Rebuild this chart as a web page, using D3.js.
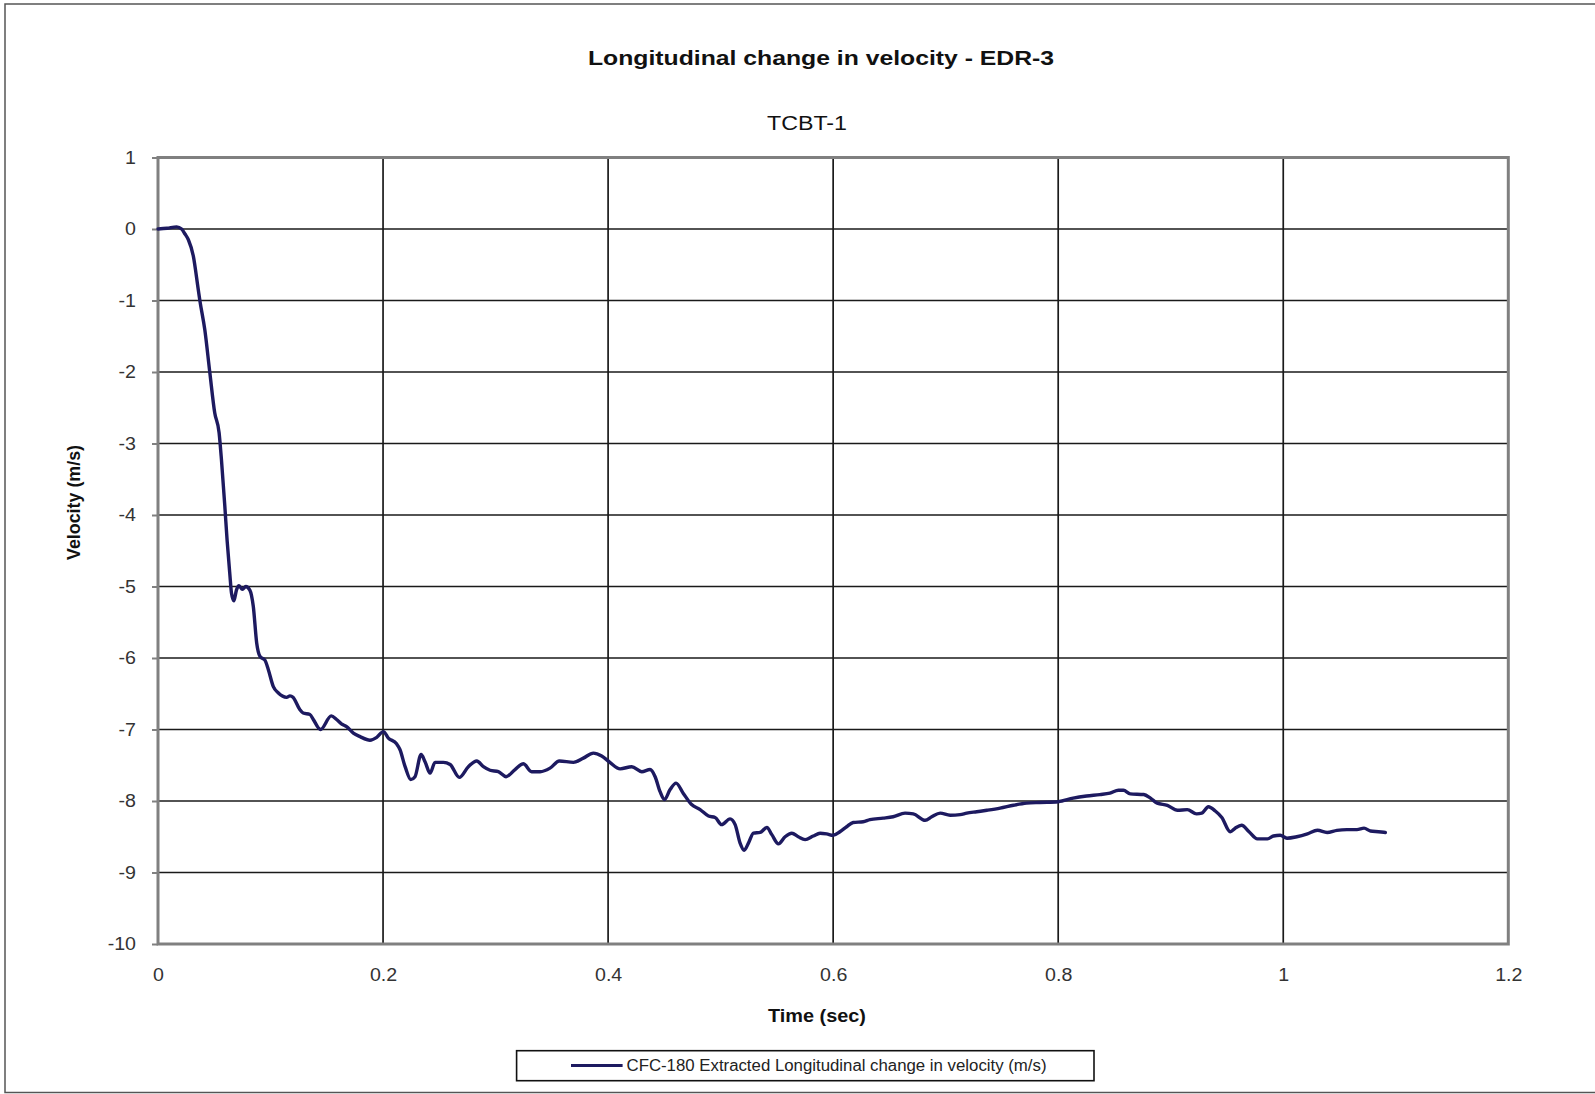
<!DOCTYPE html>
<html>
<head>
<meta charset="utf-8">
<script src="https://cdn.jsdelivr.net/npm/d3@7"></script>
<style>
  html, body { margin: 0; padding: 0; background: #fff; }
  svg { display: block; font-family: "Liberation Sans", Arial, sans-serif; }
</style>
</head>
<body>
<svg id="chart" width="1595" height="1094"></svg>
<script>
// ---- data ----
const titleText = "Longitudinal change in velocity - EDR-3";
const subtitleText = "TCBT-1";
const xAxisTitle = "Time (sec)";
const yAxisTitle = "Velocity (m/s)";
const seriesName = "CFC-180 Extracted Longitudinal change in velocity (m/s)";

const xTicks = [0, 0.2, 0.4, 0.6, 0.8, 1, 1.2];
const yTicks = [1, 0, -1, -2, -3, -4, -5, -6, -7, -8, -9, -10];

const time = [
  0, 0.008, 0.0166, 0.021, 0.024, 0.027, 0.0314, 0.0358, 0.0372, 0.0416,
  0.046, 0.0504, 0.0543, 0.0564, 0.0594, 0.0614, 0.0638, 0.0653, 0.0674, 0.0697,
  0.072, 0.075, 0.078, 0.0816, 0.0847, 0.0877, 0.0907, 0.095, 0.098, 0.1025,
  0.107, 0.1143, 0.1173, 0.12, 0.126, 0.129, 0.135, 0.138, 0.1444, 0.154,
  0.1587, 0.163, 0.1676, 0.1736, 0.1796, 0.1884, 0.1944, 0.2003, 0.2047, 0.212,
  0.215, 0.2196, 0.2246, 0.2284, 0.2338, 0.2373, 0.2418, 0.2462, 0.2536, 0.2596,
  0.2678, 0.2758, 0.2833, 0.2892, 0.2951, 0.3025, 0.3093, 0.3173, 0.3247, 0.332,
  0.3396, 0.3484, 0.3567, 0.3692, 0.378, 0.3869, 0.3943, 0.4016, 0.4107, 0.421,
  0.4299, 0.4373, 0.4418, 0.4462, 0.45, 0.4551, 0.4604, 0.4667, 0.4742, 0.4818,
  0.4892, 0.4951, 0.5009, 0.5084, 0.5129, 0.5173, 0.5209, 0.5247, 0.5292, 0.5351,
  0.5411, 0.5455, 0.5514, 0.5573, 0.5633, 0.569, 0.5751, 0.5823, 0.5884, 0.5942,
  0.6, 0.606, 0.612, 0.6178, 0.6267, 0.6327, 0.6444, 0.6533, 0.6639, 0.6712,
  0.6818, 0.6876, 0.6951, 0.704, 0.7129, 0.7187, 0.7276, 0.7366, 0.7484, 0.7603,
  0.7719, 0.7836, 0.8, 0.8133, 0.8252, 0.837, 0.846, 0.8536, 0.858, 0.864,
  0.876, 0.882, 0.888, 0.897, 0.906, 0.9147, 0.923, 0.9276, 0.9335, 0.9396,
  0.9454, 0.9529, 0.9573, 0.963, 0.9696, 0.977, 0.986, 0.9913, 0.9973, 1.0033,
  1.012, 1.0215, 1.0304, 1.039, 1.0477, 1.0566, 1.0655, 1.0718, 1.0775, 1.0847,
  1.0907
];
const velocity = [
  0, 0.01, 0.03, 0.0, -0.07, -0.15, -0.38, -0.85, -1.0, -1.41,
  -2.0, -2.57, -2.85, -3.23, -3.88, -4.35, -4.82, -5.09, -5.2, -5.05,
  -4.99, -5.04, -5.0, -5.05, -5.28, -5.79, -5.98, -6.03, -6.16, -6.4,
  -6.49, -6.55, -6.53, -6.55, -6.72, -6.77, -6.79, -6.86, -7.0, -6.81,
  -6.86, -6.92, -6.96, -7.05, -7.1, -7.15, -7.11, -7.03, -7.12, -7.2,
  -7.28, -7.52, -7.70, -7.66, -7.35, -7.45, -7.61, -7.46, -7.46, -7.49,
  -7.67, -7.52, -7.44, -7.52, -7.57, -7.59, -7.66, -7.56, -7.48, -7.59,
  -7.59, -7.54, -7.44, -7.46, -7.40, -7.33, -7.37, -7.46, -7.55, -7.52,
  -7.59, -7.56, -7.66, -7.87, -7.98, -7.84, -7.75, -7.89, -8.05, -8.12,
  -8.21, -8.23, -8.33, -8.25, -8.33, -8.59, -8.69, -8.59, -8.45, -8.44,
  -8.37, -8.47, -8.6, -8.5, -8.45, -8.5, -8.54, -8.49, -8.45, -8.46,
  -8.48, -8.43, -8.36, -8.30, -8.29, -8.26, -8.24, -8.22, -8.17, -8.18,
  -8.27, -8.22, -8.17, -8.20, -8.19, -8.17, -8.15, -8.13, -8.10, -8.06,
  -8.03, -8.02, -8.01, -7.96, -7.93, -7.91, -7.89, -7.85, -7.85, -7.90,
  -7.91, -7.96, -8.03, -8.06, -8.13, -8.12, -8.18, -8.17, -8.08, -8.14,
  -8.23, -8.43, -8.38, -8.34, -8.43, -8.53, -8.53, -8.49, -8.48, -8.52,
  -8.50, -8.46, -8.41, -8.44, -8.41, -8.40, -8.40, -8.38, -8.42, -8.43,
  -8.44
];

// ---- layout ----
const svg = d3.select("#chart");
const plot = { left: 158, right: 1508.3, top: 157.5, bottom: 944 };

const x = d3.scaleLinear().domain([0, 1.2]).range([plot.left, plot.right]);
const y = d3.scaleLinear().domain([-10, 1]).range([plot.bottom, plot.top]);

const H_STRETCH = 1.12;
function stretchBy(sel, f) {
  sel.each(function () {
    const L = this.getComputedTextLength();
    this.setAttribute("textLength", L * f);
    this.setAttribute("lengthAdjust", "spacingAndGlyphs");
  });
}
function stretchTo(sel, w) {
  sel.attr("textLength", w).attr("lengthAdjust", "spacingAndGlyphs");
}

// background + outer frame
svg.append("rect").attr("x", 0).attr("y", 0).attr("width", 1595).attr("height", 1094).attr("fill", "#fff");
svg.append("rect")
  .attr("x", 5).attr("y", 4).attr("width", 1620).attr("height", 1088.5)
  .attr("fill", "none").attr("stroke", "#555").attr("stroke-width", 1.5);

// gridlines
svg.append("g").selectAll("line.h")
  .data(yTicks.filter(d => d > -10 && d < 1))
  .join("line")
  .attr("x1", plot.left).attr("x2", plot.right)
  .attr("y1", d => y(d)).attr("y2", d => y(d))
  .attr("stroke", "#1a1a1a").attr("stroke-width", 1.7);
svg.append("g").selectAll("line.v")
  .data(xTicks.filter(d => d > 0 && d < 1.2))
  .join("line")
  .attr("x1", d => x(d)).attr("x2", d => x(d))
  .attr("y1", plot.top).attr("y2", plot.bottom)
  .attr("stroke", "#1a1a1a").attr("stroke-width", 1.7);

// y axis with ticks
const yAxis = svg.append("g")
  .attr("transform", `translate(${plot.left},0)`)
  .call(d3.axisLeft(y).tickValues(yTicks).tickSizeInner(6).tickSizeOuter(0).tickPadding(16).tickFormat(d => String(d)));
yAxis.select(".domain").remove();
yAxis.selectAll(".tick line").attr("stroke", "#808080").attr("stroke-width", 2);
yAxis.selectAll(".tick text")
  .attr("font-family", "Liberation Sans, Arial, sans-serif")
  .attr("font-size", 17.5).attr("fill", "#333");
stretchBy(yAxis.selectAll(".tick text"), H_STRETCH);

// x axis labels
const xAxis = svg.append("g")
  .attr("transform", `translate(0,${plot.bottom})`)
  .call(d3.axisBottom(x).tickValues(xTicks).tickSizeInner(0).tickSizeOuter(0).tickPadding(24.5).tickFormat(d => String(d)));
xAxis.select(".domain").remove();
xAxis.selectAll(".tick line").remove();
xAxis.selectAll(".tick text")
  .attr("font-family", "Liberation Sans, Arial, sans-serif")
  .attr("font-size", 17.5).attr("fill", "#333");
stretchBy(xAxis.selectAll(".tick text"), H_STRETCH);

// plot area border (gray)
svg.append("rect")
  .attr("x", plot.left).attr("y", plot.top)
  .attr("width", plot.right - plot.left).attr("height", plot.bottom - plot.top)
  .attr("fill", "none").attr("stroke", "#808080").attr("stroke-width", 3);

// data line
const pts = time.map((t, i) => [t, velocity[i]]);
const line = d3.line().x(d => x(d[0])).y(d => y(d[1])).curve(d3.curveMonotoneX);
svg.append("path")
  .datum(pts)
  .attr("d", line)
  .attr("fill", "none")
  .attr("stroke", "#1d1a60")
  .attr("stroke-width", 3.4)
  .attr("stroke-linejoin", "round")
  .attr("stroke-linecap", "round");

// titles
const t1 = svg.append("text")
  .attr("x", 821).attr("y", 65).attr("text-anchor", "middle")
  .attr("font-size", 20).attr("font-weight", "bold").attr("fill", "#111")
  .text(titleText);
stretchTo(t1, 466);

const t2 = svg.append("text")
  .attr("x", 807).attr("y", 129.5).attr("text-anchor", "middle")
  .attr("font-size", 20.5).attr("fill", "#111")
  .text(subtitleText);
stretchTo(t2, 80);

const xt = svg.append("text")
  .attr("x", 817).attr("y", 1022).attr("text-anchor", "middle")
  .attr("font-size", 18).attr("font-weight", "bold").attr("fill", "#111")
  .text(xAxisTitle);
stretchTo(xt, 98);

const yt = svg.append("text")
  .attr("transform", "translate(80,502.5) rotate(-90)")
  .attr("text-anchor", "middle")
  .attr("font-size", 18).attr("font-weight", "bold").attr("fill", "#111")
  .text(yAxisTitle);
stretchTo(yt, 115);

// legend
const lg = svg.append("g");
lg.append("rect")
  .attr("x", 516.6).attr("y", 1050.7).attr("width", 577.4).attr("height", 30)
  .attr("fill", "#fff").attr("stroke", "#111").attr("stroke-width", 1.6);
lg.append("line")
  .attr("x1", 571).attr("x2", 622.6).attr("y1", 1065.5).attr("y2", 1065.5)
  .attr("stroke", "#1d1a60").attr("stroke-width", 3);
const lt = lg.append("text")
  .attr("x", 626.5).attr("y", 1071).attr("font-size", 16).attr("fill", "#222")
  .text(seriesName);
stretchTo(lt, 420);
</script>
</body>
</html>
